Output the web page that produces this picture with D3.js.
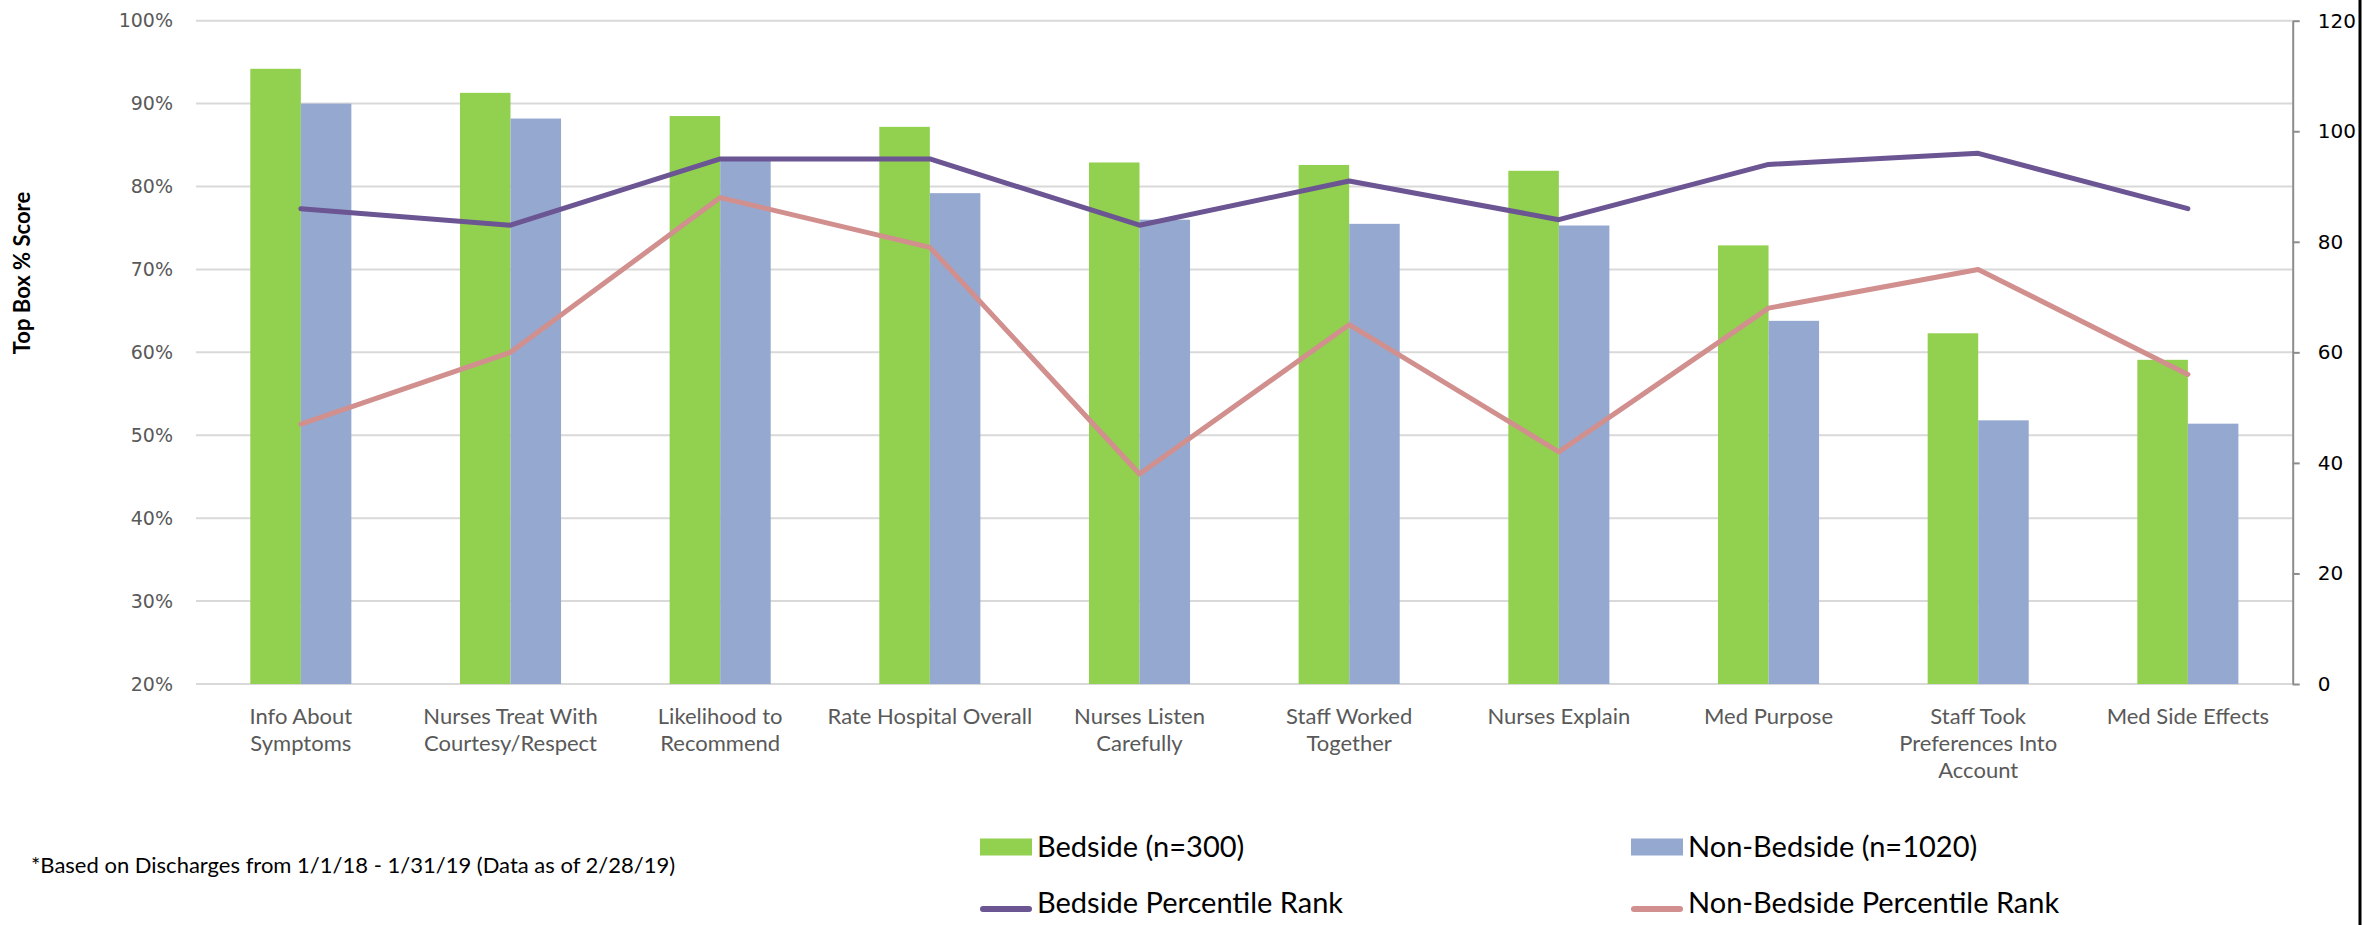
<!DOCTYPE html>
<html>
<head>
<meta charset="utf-8">
<script src="https://cdn.jsdelivr.net/npm/d3@7"></script>
<style>
body { margin: 0; background: #fff; }
svg { display: block; }
</style>
</head>
<body>
<div id="chart"></div>
<script>
/* chart data */
var categories = ["Info About Symptoms", "Nurses Treat With Courtesy/Respect", "Likelihood to Recommend",
	"Rate Hospital Overall", "Nurses Listen Carefully", "Staff Worked Together", "Nurses Explain",
	"Med Purpose", "Staff Took Preferences Into Account", "Med Side Effects"];
var categoryLines = [["Info About", "Symptoms"], ["Nurses Treat With", "Courtesy/Respect"], ["Likelihood to", "Recommend"],
	["Rate Hospital Overall"], ["Nurses Listen", "Carefully"], ["Staff Worked", "Together"], ["Nurses Explain"],
	["Med Purpose"], ["Staff Took", "Preferences Into", "Account"], ["Med Side Effects"]];
var bedside = [94.2, 91.3, 88.5, 87.2, 82.9, 82.6, 81.9, 72.9, 62.3, 59.1];
var nonBedside = [90.0, 88.2, 83.2, 79.2, 76.0, 75.5, 75.3, 63.8, 51.8, 51.4];
var bedsideRank = [86, 83, 95, 95, 83, 91, 84, 94, 96, 86];
var nonBedsideRank = [47, 60, 88, 79, 38, 65, 42, 68, 75, 56];
var leftTicks = [20, 30, 40, 50, 60, 70, 80, 90, 100];
var rightTicks = [0, 20, 40, 60, 80, 100, 120];

/* size and style parameters */
var width = 2362;
var height = 925;
var plotLeft = 196, plotRight = 2292.7, plotTop = 20.7, plotBottom = 684;
var green = '#92d050', blue = '#95a9d0', purple = '#6b5593', pink = '#d18f8e';
var textFont = "Lato, 'Open Sans', sans-serif";
var tickFont = "'DejaVu Sans', Verdana, sans-serif";

var svg = d3.select("#chart")
	.append('svg')
		.attr('width', width)
		.attr('height', height);

/* scales */
var x = d3.scaleBand()
	.domain(categories)
	.range([plotLeft, plotRight])
	.paddingInner(0.518)
	.paddingOuter(0.259);

var y = d3.scaleLinear()
	.domain([20, 100])
	.range([plotBottom, plotTop]);

var yRank = d3.scaleLinear()
	.domain([0, 120])
	.range([plotBottom, plotTop]);

var half = x.bandwidth() / 2;

/* gridlines */
svg.append("g")
	.selectAll("line")
	.data(leftTicks)
	.join("line")
		.attr("x1", plotLeft)
		.attr("x2", plotRight)
		.attr("y1", d => y(d))
		.attr("y2", d => y(d))
		.style("stroke", "#d9d9d9")
		.style("stroke-width", 2);

/* left axis labels */
var leftAxis = svg.append("g")
	.attr("transform", "translate(" + plotLeft + ",0)")
	.call(d3.axisLeft(y).tickValues(leftTicks).tickFormat(d => d + "%").tickSize(0).tickPadding(23));
leftAxis.select(".domain").remove();
leftAxis.selectAll("text")
	.style("font-family", tickFont)
	.style("font-size", "19px")
	.style("fill", "#595959");

/* bars */
svg.append("g")
	.selectAll("rect")
	.data(categories)
	.join("rect")
		.attr("x", d => x(d))
		.attr("y", (d, i) => y(bedside[i]))
		.attr("width", half)
		.attr("height", (d, i) => y(20) - y(bedside[i]))
		.style("fill", green);

svg.append("g")
	.selectAll("rect")
	.data(categories)
	.join("rect")
		.attr("x", d => x(d) + half)
		.attr("y", (d, i) => y(nonBedside[i]))
		.attr("width", half)
		.attr("height", (d, i) => y(20) - y(nonBedside[i]))
		.style("fill", blue);

/* right axis */
var rightAxis = svg.append("g")
	.attr("transform", "translate(" + plotRight + ",0)")
	.call(d3.axisRight(yRank).tickValues(rightTicks).tickSize(7).tickSizeOuter(0).tickPadding(18));
rightAxis.selectAll("path, line").style("stroke", "#8c8c8c").style("stroke-width", 2);
rightAxis.selectAll("text")
	.style("font-family", tickFont)
	.style("font-size", "20px")
	.style("fill", "#000");

/* percentile rank lines */
var line = d3.line()
	.x((d, i) => x(categories[i]) + half)
	.y(d => yRank(d));

svg.append("path")
	.datum(nonBedsideRank)
	.attr("d", line)
	.style("fill", "none")
	.style("stroke", pink)
	.style("stroke-width", 5)
	.style("stroke-linecap", "round")
	.style("stroke-linejoin", "round");

svg.append("path")
	.datum(bedsideRank)
	.attr("d", line)
	.style("fill", "none")
	.style("stroke", purple)
	.style("stroke-width", 5)
	.style("stroke-linecap", "round")
	.style("stroke-linejoin", "round");

/* category labels, multiline */
categories.forEach(function(c, i) {
	var t = svg.append("text")
		.attr("text-anchor", "middle")
		.style("font-family", textFont)
		.style("font-size", "22px")
		.style("fill", "#595959");
	categoryLines[i].forEach(function(s, j) {
		t.append("tspan")
			.attr("x", x(c) + half)
			.attr("y", 724 + j * 27)
			.text(s);
	});
});

/* y axis title */
svg.append("text")
	.attr("transform", "translate(30,273) rotate(-90)")
	.attr("text-anchor", "middle")
	.style("font-family", textFont)
	.style("font-size", "22px")
	.style("font-weight", "bold")
	.style("fill", "#000")
	.text("Top Box % Score");

/* footnote */
svg.append("text")
	.attr("x", 31)
	.attr("y", 873)
	.style("font-family", textFont)
	.style("font-size", "22px")
	.style("fill", "#000")
	.text("*Based on Discharges from 1/1/18 - 1/31/19 (Data as of 2/28/19)");

/* legend */
var legend = [
	{label: "Bedside (n=300)", color: green, type: "rect", x: 980, y: 847, base: 857},
	{label: "Non-Bedside (n=1020)", color: blue, type: "rect", x: 1631, y: 847, base: 857},
	{label: "Bedside Percentile Rank", color: purple, type: "line", x: 980, y: 909, base: 913},
	{label: "Non-Bedside Percentile Rank", color: pink, type: "line", x: 1631, y: 909, base: 913}
];
legend.forEach(function(d) {
	if (d.type === "rect") {
		svg.append("rect")
			.attr("x", d.x)
			.attr("y", d.y - 8.5)
			.attr("width", 52)
			.attr("height", 17)
			.style("fill", d.color);
	} else {
		svg.append("line")
			.attr("x1", d.x + 3)
			.attr("x2", d.x + 49)
			.attr("y1", d.y)
			.attr("y2", d.y)
			.style("stroke", d.color)
			.style("stroke-width", 6)
			.style("stroke-linecap", "round");
	}
	svg.append("text")
		.attr("x", d.x + 57)
		.attr("y", d.base)
		.style("font-family", textFont)
		.style("font-size", "29px")
		.style("fill", "#000")
		.text(d.label);
});

/* right border of the picture */
svg.append("line")
	.attr("x1", 2360)
	.attr("x2", 2360)
	.attr("y1", 0)
	.attr("y2", height)
	.style("stroke", "#000")
	.style("stroke-width", 3);
</script>
</body>
</html>
